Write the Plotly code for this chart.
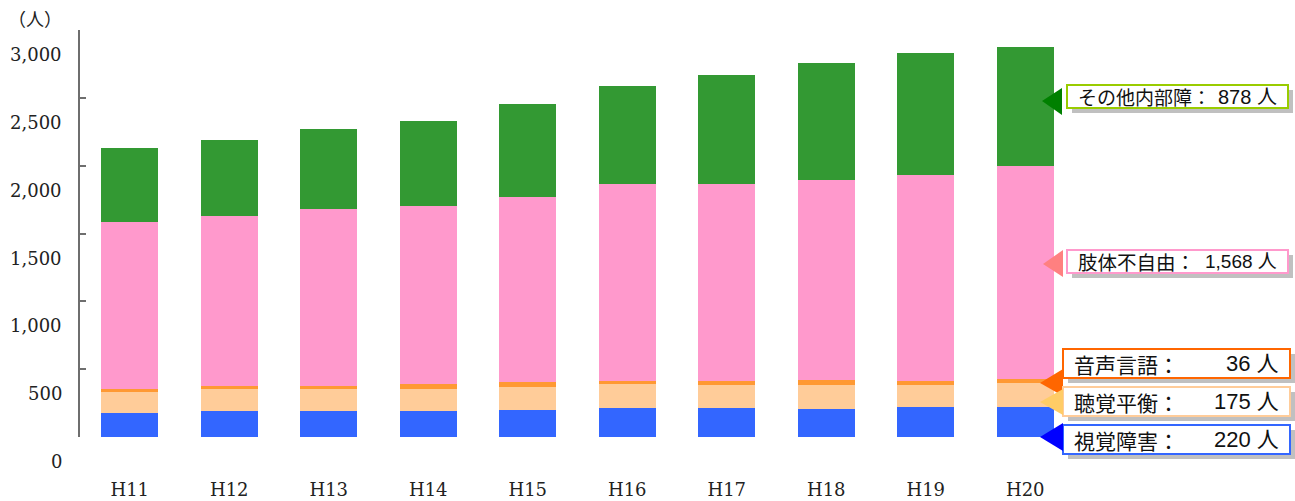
import plotly.graph_objects as go

# 年度
years = ["H11", "H12", "H13", "H14", "H15", "H16", "H17", "H18", "H19", "H20"]

# 障害種別ごとの人数（人）
shikaku = [177, 192, 192, 192, 199, 214, 214, 206, 222, 220]          # 視覚障害
choukaku = [155, 162, 162, 162, 170, 177, 170, 177, 165, 175]         # 聴覚平衡
onsei = [22, 22, 22, 37, 37, 22, 29, 37, 25, 36]                      # 音声言語
shitai = [1231, 1253, 1304, 1312, 1363, 1452, 1452, 1474, 1518, 1568]  # 肢体不自由
naibu = [545, 560, 590, 626, 685, 722, 803, 862, 900, 878]            # その他内部障

y_ticks = [0, 500, 1000, 1500, 2000, 2500, 3000]

W, H = 1295, 501
ML, MR, MT, MB = 80, 220, 30, 64


def fx(x):
    return (x - ML) / (W - ML - MR)


def fy(y):
    return (H - MB - y) / (H - MT - MB)


series = [
    ("視覚障害", shikaku, "#3366FF"),
    ("聴覚平衡", choukaku, "#FFCC99"),
    ("音声言語", onsei, "#FF9933"),
    ("肢体不自由", shitai, "#FF99CC"),
    ("その他内部障", naibu, "#339933"),
]

fig = go.Figure()
for name, vals, color in series:
    fig.add_trace(go.Bar(x=years, y=vals, name=name,
                         marker=dict(color=color, line=dict(width=0))))

serif = "DejaVu Serif"
jp = "Noto Sans CJK JP"
num = "Liberation Sans, Noto Sans CJK JP"

annotations = []
for v in y_ticks:
    annotations.append(dict(
        x=0, xref="paper", y=v, yref="y", text=f"{v:,}", showarrow=False,
        xanchor="right", yanchor="middle", xshift=-16, yshift=-24.5,
        font=dict(family=serif, size=18, color="#222222")))
annotations.append(dict(
    x=0, xref="paper", y=1, yref="paper", text="（人）", showarrow=False,
    xanchor="left", yanchor="middle", xshift=-74, yshift=12,
    font=dict(family=jp, size=18, color="#222222")))

# 右側の内訳ラベル（H20 の値）
last = {name: vals[-1] for name, vals, _ in series}
callouts = [
    ("その他内部障：", last["その他内部障"], (1067, 85, 1288, 108), "#99CC00", "#008000",
     (1042, 101, 1062, 88, 115), 19, 20),
    ("肢体不自由：", last["肢体不自由"], (1067, 250, 1288, 273), "#FF99CC", "#FF8080",
     (1043, 264, 1063, 250, 277), 19.5, 19),
    ("音声言語：", last["音声言語"], (1063, 349, 1290, 378), "#FF6600", "#FF6600",
     (1040, 383, 1063, 369, 396), 21, 22),
    ("聴覚平衡：", last["聴覚平衡"], (1063, 387, 1290, 416), "#FFCC99", "#FFCC66",
     (1040, 402, 1063, 389, 415), 21, 22),
    ("視覚障害：", last["視覚障害"], (1063, 425, 1290, 454), "#3366FF", "#0000FF",
     (1040, 437, 1063, 423, 451), 21, 22),
]

shapes = []
for label, val, (x0, y0, x1, y1), border, arrow, (tx, ty, bx, by0, by1), fs, fsn in callouts:
    shapes.append(dict(type="rect", xref="paper", yref="paper",
                       x0=fx(x0 + 5), x1=fx(x1 + 5), y0=fy(y1 + 5), y1=fy(y0 + 5),
                       fillcolor="#C0C0C0", line=dict(width=0), layer="above"))
    shapes.append(dict(type="rect", xref="paper", yref="paper",
                       x0=fx(x0), x1=fx(x1), y0=fy(y1), y1=fy(y0),
                       fillcolor="white", line=dict(color=border, width=2), layer="above"))
    shapes.append(dict(type="path", xref="paper", yref="paper",
                       path=f"M {fx(tx)} {fy(ty)} L {fx(bx)} {fy(by0)} L {fx(bx)} {fy(by1)} Z",
                       fillcolor=arrow, line=dict(width=0), layer="above"))
    yc = fy((y0 + y1) / 2)
    annotations.append(dict(
        x=fx(x0 + 9), xref="paper", y=yc, yref="paper", text=label, showarrow=False,
        xanchor="left", yanchor="middle", font=dict(family=jp, size=fs, color="#111111")))
    annotations.append(dict(
        x=fx(x1 - 9), xref="paper", y=yc, yref="paper", text=f"{val:,} 人", showarrow=False,
        xanchor="right", yanchor="middle", font=dict(family=num, size=fsn, color="#111111")))

fig.update_layout(
    width=W, height=H,
    margin=dict(l=ML, r=MR, t=MT, b=MB, pad=0, autoexpand=False),
    paper_bgcolor="white", plot_bgcolor="white",
    barmode="stack", bargap=0.43, showlegend=False,
    xaxis=dict(type="category", range=[-0.5, 9.5], showline=False, showgrid=False,
               zeroline=False, ticks="", ticklabelstandoff=40, automargin=False,
               tickfont=dict(family=serif, size=18, color="#222222")),
    yaxis=dict(range=[0, 3000], tickvals=y_ticks, showticklabels=False,
               showline=True, linecolor="#6E6E6E", linewidth=1.5, automargin=False,
               ticks="inside", ticklen=6, tickcolor="#6E6E6E", tickwidth=1.5,
               showgrid=False, zeroline=False),
    annotations=annotations, shapes=shapes,
)

fig.write_html("out.html")
